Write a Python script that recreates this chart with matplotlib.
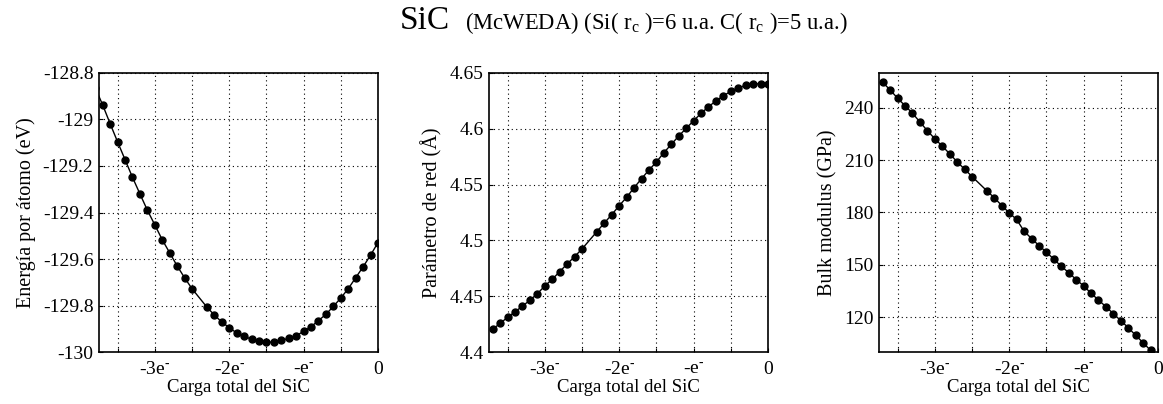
import numpy as np
import matplotlib
matplotlib.use("Agg")
import matplotlib.pyplot as plt

plt.rcParams['font.family'] = 'Liberation Serif'
plt.rcParams['mathtext.fontset'] = 'custom'
plt.rcParams['mathtext.rm'] = 'Liberation Serif'
plt.rcParams['mathtext.it'] = 'Liberation Serif:italic'

# charge (units of e) ; -2.4 is missing in the data
carga = [-3.7, -3.6, -3.5, -3.4, -3.3, -3.2, -3.1, -3.0, -2.9, -2.8, -2.7, -2.6, -2.5,
         -2.3, -2.2, -2.1, -2.0, -1.9, -1.8, -1.7, -1.6, -1.5, -1.4, -1.3, -1.2, -1.1,
         -1.0, -0.9, -0.8, -0.7, -0.6, -0.5, -0.4, -0.3, -0.2, -0.1, 0.0]

# energy has one extra point at -3.8 (outside the frame, only its line shows)
carga_e = [-3.8] + carga
energia = [-128.865, -128.939, -129.019, -129.097, -129.173, -129.249, -129.320, -129.390,
           -129.453, -129.517, -129.573, -129.629, -129.680, -129.727,
           -129.806, -129.840, -129.870, -129.894, -129.917, -129.931, -129.944,
           -129.953, -129.957, -129.956, -129.949, -129.940, -129.929,
           -129.910, -129.890, -129.864, -129.837, -129.803, -129.767, -129.727,
           -129.680, -129.633, -129.583, -129.529]

parametro = [4.4206, 4.4259, 4.4313, 4.4361, 4.4414, 4.4465, 4.4524, 4.4593, 4.4653,
             4.4721, 4.4790, 4.4855, 4.4924,
             4.5079, 4.5156, 4.5231, 4.5311, 4.5386, 4.5472, 4.5552, 4.5630, 4.5701,
             4.5785, 4.5859, 4.5934, 4.6002,
             4.6071, 4.6136, 4.6196, 4.6247, 4.6294, 4.6333, 4.6363, 4.6387, 4.6399,
             4.6402, 4.6396]

bulk = [254.5, 250.1, 245.4, 241.1, 236.8, 231.8, 226.8, 222.2, 218.0, 213.6, 209.0,
        204.8, 200.6,
        192.4, 188.4, 184.0, 179.8, 176.0, 169.3, 165.1, 161.1, 157.3, 153.3, 149.2,
        145.6, 141.6,
        138.0, 133.8, 129.9, 126.1, 122.1, 118.1, 114.1, 109.7, 105.5, 101.1, 97.0]

xticks = [-3.5, -3.0, -2.5, -2.0, -1.5, -1.0, -0.5, 0.0]
xticklabels = ['', r'-3e$^{\text{-}}$', '', r'-2e$^{\text{-}}$', '',
               r'-e$^{\text{-}}$', '', '0']

W, H = 1163, 404
fig = plt.figure(figsize=(W / 100, H / 100), dpi=100)

panels = [
    (99, carga_e, energia, (-130, -128.8), [-130, -129.8, -129.6, -129.4, -129.2, -129, -128.8],
     ['-130', '-129.8', '-129.6', '-129.4', '-129.2', '-129', '-128.8'],
     'Energía por átomo (eV)'),
    (489, carga, parametro, (4.4, 4.65), [4.4, 4.45, 4.5, 4.55, 4.6, 4.65],
     ['4.4', '4.45', '4.5', '4.55', '4.6', '4.65'],
     'Parámetro de red (Å)'),
    (879, carga, bulk, (100, 260), [120, 150, 180, 210, 240],
     ['120', '150', '180', '210', '240'],
     'Bulk modulus (GPa)'),
]

for left, xs, ys, ylim, yt, ytl, ylab in panels:
    ax = fig.add_axes([left / W, (H - 352.3) / H, 279 / W, 279.6 / H])
    ax.plot(xs, ys, '-', color='black', lw=1.0, marker='o', ms=5, mfc='black', mec='black')
    ax.set_xlim(-3.75, 0)
    ax.set_ylim(*ylim)
    ax.set_xticks(xticks)
    ax.set_xticklabels(xticklabels)
    ax.set_yticks(yt)
    ax.set_yticklabels(ytl)
    ax.grid(True, color='black', linestyle=(0, (1, 3)), linewidth=0.8)
    ax.tick_params(direction='in', length=3, labelsize=14, top=False, right=False)
    ax.tick_params(axis='y', pad=4)
    ax.tick_params(axis='x', pad=6)
    for s in ax.spines.values():
        s.set_linewidth(1.2)
    ax.set_xlabel('Carga total del SiC', fontsize=13.5, labelpad=1)
    ax.set_ylabel(ylab, fontsize=14.5, labelpad=5)

fig.text(400 / W, 1 - 29 / H, 'SiC', fontsize=24, ha='left', va='baseline')
fig.text(465 / W, 1 - 29 / H,
         r'(McWEDA) (Si( r$_{\mathrm{c}}$ )=6 u.a. C( r$_{\mathrm{c}}$ )=5 u.a.)',
         fontsize=16.3, ha='left', va='baseline')

fig.savefig('out.png', dpi=100)
